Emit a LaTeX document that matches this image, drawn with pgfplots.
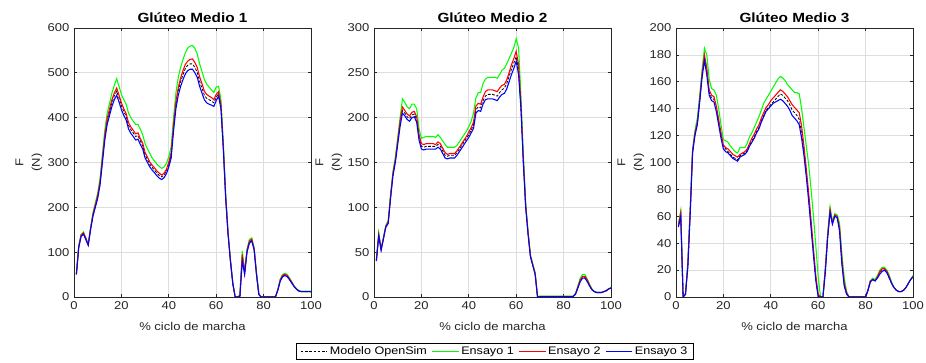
\documentclass[border=0pt]{standalone}
\usepackage{pgfplots}
\pgfplotsset{compat=1.18}
\usepackage{pgfplotstable}
\usepackage{fontspec}
\setmainfont{Liberation Sans}[FakeStretch=1.15]

\definecolor{axgray}{rgb}{0.15,0.15,0.15}
\definecolor{grd}{rgb}{0.87,0.87,0.87}
\definecolor{mgreen}{rgb}{0,1,0}
\definecolor{mred}{rgb}{1,0,0}
\definecolor{mblue}{rgb}{0,0,1}

% x = % ciclo, m = Modelo OpenSim, e1/e2/e3 = Ensayo 1/2/3
\pgfplotstableread{
x m e1 e2 e3
1 51 52 51 50
2 112 115 113 110
3 137 140 138 135
4 142 145 143 140
5 130 132 131 128
6 116 118 117 115
7 152 156 153 150
8 183 188 185 180
9 203 210 205 200
10 224 232 227 220
11 255 265 258 250
12 306 320 310 300
13 357 372 362 350
14 393 410 398 385
15 413 432 419 405
16 433 455 440 425
17 449 472 455 440
18 459 487 466 450
19 444 470 450 435
20 427 452 433 418
21 414 440 420 405
22 403 430 409 395
23 383 410 389 375
24 373 400 379 365
25 366 392 372 358
26 358 385 364 350
27 360 385 366 352
28 348 374 353 340
29 337 362 343 330
30 317 342 322 310
31 307 330 312 300
32 296 320 301 290
33 289 310 294 283
34 283 303 288 277
35 276 296 281 270
36 271 291 276 265
37 268 287 272 262
38 272 290 276 266
39 281 298 285 275
40 296 313 301 290
41 317 335 322 310
42 378 400 384 370
43 429 455 436 420
44 460 490 467 450
45 481 512 489 470
46 496 530 505 485
47 510 545 519 498
48 517 555 526 505
49 520 560 530 508
50 520 561 531 508
51 512 555 523 500
52 501 542 512 490
53 481 520 491 470
54 466 503 476 455
55 450 485 459 440
56 443 475 452 433
57 440 468 448 430
58 437 462 445 428
59 433 456 440 425
60 445 468 452 438
61 455 470 458 448
62 425 440 430 420
63 333 345 336 330
64 222 230 225 220
65 141 145 143 140
66 81 84 82 80
67 30 32 31 30
68 0 0 0 0
69 0 0 0 0
70 2 5 3 0
71 90 102 95 80
72 52 58 55 50
73 102 106 104 100
74 122 128 125 120
75 127 132 129 125
76 107 110 108 105
77 51 54 52 50
78 5 7 6 5
79 0 0 0 0
85 0 0 0 0
86 15 17 16 15
87 36 40 38 35
88 46 50 48 45
89 49 53 51 48
90 46 50 48 45
91 39 42 40 38
92 31 33 32 30
93 23 24 23 22
94 17 18 17 17
95 13 14 13 13
96 12 13 12 12
100 12 13 12 12
}\gmA

\pgfplotstableread{
x m e1 e2 e3
1 41 41 41 40
2 69 72 70 68
3 53 54 53 52
4 66 67 66 65
5 79 80 79 78
6 83 85 84 82
7 112 115 113 110
8 137 140 138 135
9 152 156 153 150
10 173 178 174 170
11 194 200 196 190
12 208 221 212 205
13 205 217 208 202
14 201 212 204 198
15 199 210 202 196
16 203 215 206 200
17 204 215 207 201
18 198 210 201 195
19 178 188 181 175
20 168 177 171 165
21 167 178 170 164
22 168 179 171 165
23 168 179 171 165
24 168 179 171 165
25 168 179 171 165
26 168 178 170 165
27 170 181 173 167
28 168 178 171 165
29 163 174 166 160
30 158 170 161 155
31 157 167 159 154
32 158 167 160 155
33 158 167 160 155
34 158 167 160 155
35 161 169 163 158
36 165 173 167 162
37 169 177 171 166
38 173 181 175 170
39 177 185 179 174
40 181 190 184 178
41 186 196 189 183
42 192 205 195 188
43 209 222 213 205
44 212 228 216 208
45 211 228 215 207
46 219 238 223 215
47 224 243 229 220
48 226 245 231 221
49 226 245 231 221
50 226 245 231 221
51 225 245 230 220
52 224 244 229 219
53 228 248 233 223
54 231 253 236 226
55 233 255 237 227
56 238 260 242 232
57 246 266 250 240
58 254 272 259 248
59 261 278 266 255
60 268 288 274 263
61 254 278 259 248
62 213 225 215 210
63 152 160 154 150
64 101 105 102 100
65 71 73 72 70
66 46 47 46 45
67 36 37 36 35
68 26 27 26 25
69 0 1 0 0
70 0.5 0.8 0.6 0.5
84 0.5 0.8 0.6 0.5
85 3 4 3 3
86 10 12 11 10
87 18 21 19 17
88 22 25 23 21
89 22 25 23 21
90 18 20 19 17
91 12 14 13 12
92 8 9 8 8
93 6 6 6 6
94 5 5 5 5
95 5 5 5 5
96 5 5 5 5
97 6 6 6 6
98 7 7 7 7
99 9 9 9 9
100 10 11 10 10
}\gmB

\pgfplotstableread{
x m e1 e2 e3
1 53 54 53 52
2 62 64 63 60
3 0 0 0 0
4 2 3 2 2
5 24 26 25 22
6 64 66 65 62
7 108 110 109 107
8 121 124 122 120
9 129 133 130 128
10 146 150 147 145
11 165 169 166 163
12 178 185 180 176
13 167 180 170 165
14 152 162 154 150
15 148 155 150 146
16 147 154 149 145
17 140 150 142 138
18 130 140 132 128
19 120 128 122 118
20 112 117 113 110
21 110 116 111 108
22 108 115 110 107
23 106 112 108 105
24 104 110 106 103
25 103 108 105 102
26 102 107 104 101
27 105 111 106 104
28 106 111 107 105
29 107 111 108 106
30 109 114 110 108
31 113 119 114 112
32 116 122 118 115
33 119 126 121 118
34 123 130 125 122
35 126 134 128 125
36 131 139 133 130
37 135 144 137 134
38 139 147 141 138
39 141 150 143 140
40 143 153 146 142
41 145 156 148 144
42 147 159 150 145
43 149 162 152 146
44 151 164 154 147
45 150 163 153 146
46 148 161 151 144
47 146 158 149 142
48 143 156 146 139
49 139 154 143 135
50 137 152 141 133
51 135 152 139 131
52 132 151 137 128
53 122 140 127 118
54 108 126 112 105
55 92 112 95 89
56 73 98 77 71
57 53 80 57 51
58 33 60 36 31
59 13 38 16 12
60 0 15 2 0
61 0 0 0 0
62 0 0 0 0
63 20 22 21 18
64 45 47 46 44
65 64 67 65 63
66 55 56 55 54
67 61 62 61 60
68 60 61 60 59
69 50 55 52 49
70 26 32 28 24
71 9 14 10 8
72 2 4 3 2
73 0 0 0 0
80 0 0 0 0
81 5 5 5 5
82 12 12 12 11
83 13 14 13 13
84 12 13 12 12
85 15 16 15 14
86 18 20 19 17
87 20 22 21 19
88 20 22 21 20
89 18 20 19 18
90 14 16 15 14
91 10 11 10 10
92 7 7 7 7
93 5 5 5 5
94 4 4 4 4
95 4 4 4 4
96 5 5 5 5
97 7 7 7 7
98 10 10 10 10
99 13 13 13 13
100 15 16 15 15
}\gmC

\pgfplotsset{
  gm/.style={
    width=177.75pt, height=201.75pt, scale only axis,
    anchor=south west,
    xmin=0, xmax=100, ymin=0,
    xtick={0,20,...,100},
    grid=major,
    major grid style={grd, line width=0.5pt},
    axis line style={axgray, line width=0.5pt},
    tick style={axgray, line width=0.5pt},
    tick align=inside, major tick length=2.5pt,
    /pgf/number format/assume math mode=true,
    tick label style={font=\fontsize{8.5}{10}\selectfont, text=axgray},
    every axis title/.style={font=\bfseries\fontsize{10}{12}\selectfont,
      at={(axis description cs:0.5,1)}, anchor=base, yshift=4pt, inner sep=0pt},
    xlabel={\% ciclo de marcha},
    xlabel style={font=\fontsize{8.5}{10}\selectfont, text=axgray,
      at={(axis description cs:0.5,0)}, anchor=base, yshift=-25.5pt, inner sep=0pt},
    ylabel={F\\(N)},
    ylabel style={font=\fontsize{8.5}{12.4}\selectfont, text=axgray, align=center,
      at={(axis description cs:-0.19,0.5)}, anchor=center},
  },
}

\begin{document}
\begin{tikzpicture}
\useasboundingbox (0,0) rectangle (694.5pt,272.25pt);

\begin{axis}[gm, at={(55.5pt,49.5pt)}, title={Glúteo Medio 1},
  ymax=600, ytick={0,100,...,600}]
  \addplot[black, dash pattern=on 2pt off 1.2pt, line width=0.6pt] table[x=x,y=m] {\gmA};
  \addplot[mgreen, line width=0.8pt] table[x=x,y=e1] {\gmA};
  \addplot[mred, line width=0.8pt] table[x=x,y=e2] {\gmA};
  \addplot[mblue, line width=0.8pt] table[x=x,y=e3] {\gmA};
\end{axis}

\begin{axis}[gm, at={(280.5pt,49.5pt)}, title={Glúteo Medio 2},
  ymax=300, ytick={0,50,...,300},
  legend columns=4,
  legend style={at={(axis description cs:0.51,-0.2026)}, anchor=center,
    line width=0.5pt, font=\fontsize{8.2}{10}\selectfont,
    inner xsep=3pt, inner ysep=1pt,
    nodes={inner xsep=1.5pt, inner ysep=1.5pt},
    /tikz/every even column/.append style={column sep=2pt}},
  legend image code/.code={\draw[mark repeat=2,mark phase=2,#1]
    plot coordinates {(0pt,0pt) (10pt,0pt) (20pt,0pt)};}]
  \addplot[black, dash pattern=on 2pt off 1.2pt, line width=0.6pt] table[x=x,y=m] {\gmB};
  \addplot[mgreen, line width=0.8pt] table[x=x,y=e1] {\gmB};
  \addplot[mred, line width=0.8pt] table[x=x,y=e2] {\gmB};
  \addplot[mblue, line width=0.8pt] table[x=x,y=e3] {\gmB};
  \legend{Modelo OpenSim, Ensayo 1, Ensayo 2, Ensayo 3}
\end{axis}

\begin{axis}[gm, at={(507pt,49.5pt)}, title={Glúteo Medio 3},
  ymax=200, ytick={0,20,...,200}]
  \addplot[black, dash pattern=on 2pt off 1.2pt, line width=0.6pt] table[x=x,y=m] {\gmC};
  \addplot[mgreen, line width=0.8pt] table[x=x,y=e1] {\gmC};
  \addplot[mred, line width=0.8pt] table[x=x,y=e2] {\gmC};
  \addplot[mblue, line width=0.8pt] table[x=x,y=e3] {\gmC};
\end{axis}
\end{tikzpicture}
\end{document}
